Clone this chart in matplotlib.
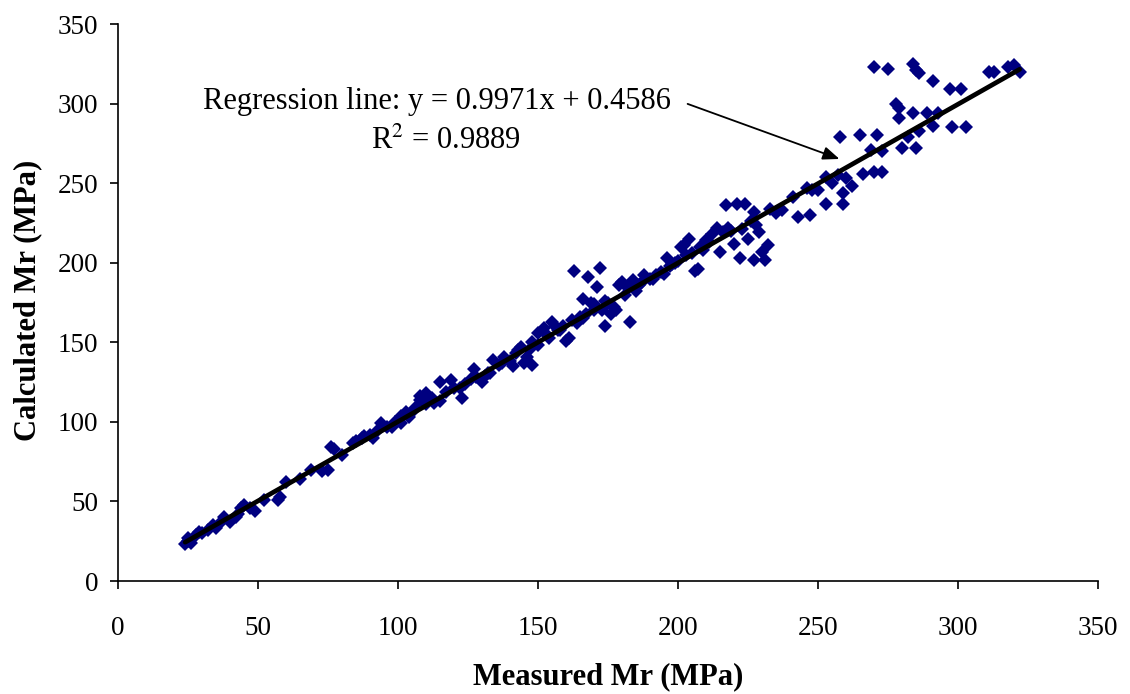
import matplotlib
matplotlib.use("Agg")
import matplotlib.pyplot as plt
import numpy as np

plt.rcParams["font.family"] = ["Liberation Serif", "DejaVu Serif"]
plt.rcParams["mathtext.fontset"] = "stix"

# measured vs calculated resilient modulus (MPa)
measured = [24, 25, 25, 26, 28, 29, 30, 32, 34, 35, 37, 38, 40, 42, 43, 44, 45, 49,
            57, 58, 60, 69, 73, 75, 76, 77, 84, 85, 87, 88, 90, 91, 93, 94, 96, 99,
            101, 101, 103, 104, 106, 108, 108, 110, 110, 112, 115, 115, 117, 119, 120,
            123, 124, 127, 128, 130, 131, 133, 134, 136, 138, 140, 141, 143, 144, 145,
            146, 148, 148, 150, 150, 152, 153, 155, 156, 158, 160, 161, 162, 163, 164,
            165, 166, 167, 168, 169, 170, 171, 172, 173, 174, 175, 176, 177, 178, 179,
            180, 182, 183, 184, 186, 188, 190, 192, 194, 196, 197, 199, 201, 202, 203,
            204, 206, 207, 208, 210, 212, 214, 215, 217, 219, 220, 221, 222, 224, 225,
            227, 227, 229, 230, 231, 232, 235, 237, 241, 243, 246, 247, 250, 253, 253,
            255, 258, 259, 259, 260, 262, 265, 266, 269, 270, 270, 271, 273, 273, 275,
            278, 279, 279, 280, 282, 284, 284, 285, 285, 286, 286, 289, 291, 291, 293,
            297, 298, 301, 303, 311, 313, 318, 320, 322,
            47, 52, 65, 80, 98, 105, 113, 122, 126, 132, 137, 142, 147, 154, 157,
            159, 166, 170, 174, 181, 185, 187, 191, 195, 198, 200, 205, 209, 211,
            216, 218, 223, 226, 228, 233, 248, 257]
calculated = [23, 25, 27, 24, 29, 31, 30, 32, 35, 33, 38, 40, 37, 40, 42, 46, 48, 44,
              51, 53, 62, 70, 69, 70, 84, 83, 87, 88, 90, 91, 92, 90, 95, 99, 97, 100,
              99, 104, 106, 103, 109, 114, 116, 111, 118, 115, 113, 125, 119, 126, 121,
              115, 124, 133, 128, 125, 129, 131, 139, 136, 141, 138, 135, 145, 147, 137,
              141, 136, 150, 148, 156, 159, 155, 163, 160, 158, 151, 153, 164, 195, 162,
              166, 177, 168, 191, 175, 170, 185, 197, 170, 160, 175, 168, 172, 170, 186,
              188, 184, 163, 189, 186, 192, 190, 192, 194, 203, 198, 200, 210, 211, 205,
              215, 195, 196, 210, 214, 218, 222, 207, 236, 220, 212, 237, 203, 237, 215,
              232, 202, 219, 207, 202, 211, 231, 233, 241, 229, 247, 230, 246, 254, 237,
              250, 279, 244, 237, 253, 248, 280, 256, 271, 257, 323, 280, 270, 257, 322,
              300, 297, 291, 272, 279, 294, 325, 272, 321, 283, 319, 294, 286, 314, 294,
              309, 285, 309, 285, 320, 320, 323, 324, 320,
              46, 51, 64, 79, 97, 106, 112, 121, 127, 131, 137, 143, 146, 153, 158,
              160, 165, 174, 176, 180, 182, 188, 190, 193, 199, 201, 206, 208, 213,
              219, 222, 221, 226, 224, 234, 246, 255]

slope = 0.9971
intercept = 0.4586
fit_range = [24, 322]

fig = plt.figure(figsize=(11.3, 6.94), dpi=100)
ax = fig.add_axes([0.1044, 0.1628, 0.8673, 0.8026])

ax.plot(measured, calculated, linestyle="none", marker="D", markersize=7.3,
        color="#000080", markeredgewidth=0)
xs = np.array(fit_range)
ax.plot(xs, slope * xs + intercept, color="black", linewidth=3.4, solid_capstyle="round")

ax.set_xlim(0, 350)
ax.set_ylim(0, 350)
ax.set_xticks(range(0, 351, 50))
ax.set_yticks(range(0, 351, 50))
ax.tick_params(axis="both", labelsize=19.5, direction="out", length=6, width=1.2)
ax.tick_params(axis="x", pad=19)
ax.tick_params(axis="y", pad=8)
for side in ["top", "right"]:
    ax.spines[side].set_visible(False)
for side in ["left", "bottom"]:
    ax.spines[side].set_linewidth(1.2)

ax.set_xlabel("Measured Mr (MPa)", fontsize=22, fontweight="bold", va="center")
ax.set_ylabel("Calculated Mr (MPa)", fontsize=22, fontweight="bold",
              va="center", ha="center")
ax.xaxis.set_label_coords(0.5, -0.172)
ax.yaxis.set_label_coords(-0.092, 0.503)

ax.text(114, 301, "Regression line: y = 0.9971x + 0.4586", fontsize=22,
        ha="center", va="center")
ax.text(117, 276, "R$^2$ = 0.9889", fontsize=22, ha="center", va="center")
ax.annotate("", xy=(258.6, 264.6), xytext=(202.5, 300.4),
            arrowprops=dict(arrowstyle="-|>,head_length=1.0,head_width=0.4",
                            color="black", lw=1.3))

fig.savefig("out.png", dpi=100)
